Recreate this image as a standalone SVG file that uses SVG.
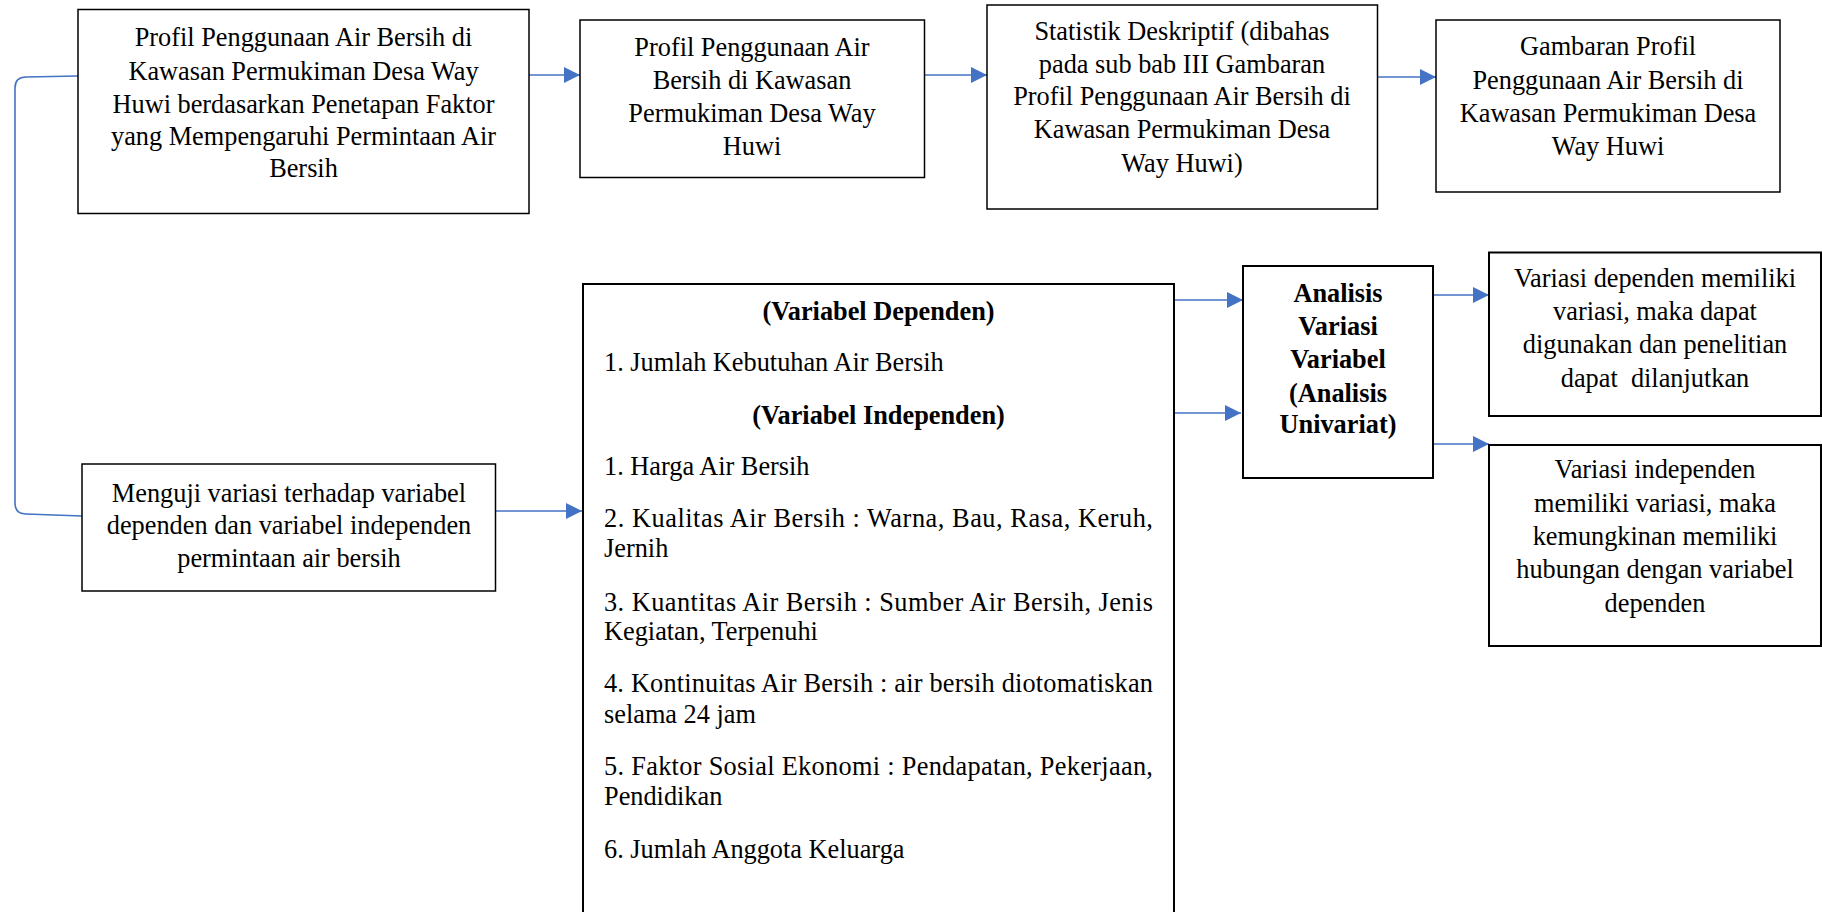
<svg xmlns="http://www.w3.org/2000/svg" width="1822" height="912" viewBox="0 0 1822 912">
<defs>
<style>
.box{fill:#fff;stroke:#000;stroke-width:1.5}
.bx2{fill:#fff;stroke:#000;stroke-width:2}
text{font-family:"Liberation Serif","Times New Roman",serif;font-size:28px;fill:#000}
.c{text-anchor:middle}
.b{font-weight:bold}
.con{fill:none;stroke:#4472C4;stroke-width:1.6}
</style>
<marker id="ah" markerUnits="userSpaceOnUse" markerWidth="16" markerHeight="16" viewBox="0 0 16 16" refX="16" refY="8" orient="auto">
<path d="M0,0 L16,8 L0,16 Z" fill="#4472C4"/>
</marker>
</defs>
<rect width="1822" height="912" fill="#fff"/>
<g id="connectors">
<path class="con" d="M78,76 L26,77 Q15,77 15,88 L15,503 Q15,514 26,514 L82,516"/>
<path class="con" marker-end="url(#ah)" d="M529,75 L580,75"/>
<path class="con" marker-end="url(#ah)" d="M925,75 L987,75"/>
<path class="con" marker-end="url(#ah)" d="M1378,77 L1436,77"/>
<path class="con" marker-end="url(#ah)" d="M496,511 L582,511"/>
<path class="con" marker-end="url(#ah)" d="M1174,300 L1243,300"/>
<path class="con" marker-end="url(#ah)" d="M1174,413 L1241,413"/>
<path class="con" marker-end="url(#ah)" d="M1433,295 L1489,295"/>
<path class="con" marker-end="url(#ah)" d="M1433,444 L1489,444"/>
</g>
<g id="n1">
<rect class="box" x="78" y="9.5" width="451" height="204"/>
<g transform="matrix(0.94,0,0,1,18.21,0)">
<text class="c" x="303.5" y="46.5">Profil Penggunaan Air Bersih di</text>
<text class="c" x="303.5" y="80">Kawasan Permukiman Desa Way</text>
<text class="c" x="303.5" y="112.7">Huwi berdasarkan Penetapan Faktor</text>
<text class="c" x="303.5" y="145">yang Mempengaruhi Permintaan Air</text>
<text class="c" x="303.5" y="177">Bersih</text>
</g>
</g>
<g id="n2">
<rect class="box" x="580" y="20" width="344.5" height="157.5"/>
<g transform="matrix(0.94,0,0,1,45.12,0)">
<text class="c" x="752" y="56">Profil Penggunaan Air</text>
<text class="c" x="752" y="89">Bersih di Kawasan</text>
<text class="c" x="752" y="122">Permukiman Desa Way</text>
<text class="c" x="752" y="155">Huwi</text>
</g>
</g>
<g id="n3">
<rect class="box" x="987" y="5" width="390.5" height="204"/>
<g transform="matrix(0.94,0,0,1,70.92,0)">
<text class="c" x="1182" y="40">Statistik Deskriptif (dibahas</text>
<text class="c" x="1182" y="73.3">pada sub bab III Gambaran</text>
<text class="c" x="1182" y="105.5">Profil Penggunaan Air Bersih di</text>
<text class="c" x="1182" y="138.3">Kawasan Permukiman Desa</text>
<text class="c" x="1182" y="171.7">Way Huwi)</text>
</g>
</g>
<g id="n4">
<rect class="box" x="1436" y="20" width="344" height="172"/>
<g transform="matrix(0.94,0,0,1,96.48,0)">
<text class="c" x="1608" y="55">Gambaran Profil</text>
<text class="c" x="1608" y="89">Penggunaan Air Bersih di</text>
<text class="c" x="1608" y="122">Kawasan Permukiman Desa</text>
<text class="c" x="1608" y="155">Way Huwi</text>
</g>
</g>
<g id="n5">
<rect class="box" x="82" y="464" width="413.5" height="127"/>
<g transform="matrix(0.94,0,0,1,17.34,0)">
<text class="c" x="289" y="501.7">Menguji variasi terhadap variabel</text>
<text class="c" x="289" y="534.3">dependen dan variabel independen</text>
<text class="c" x="289" y="566.7">permintaan air bersih</text>
</g>
</g>
<g id="n6">
<rect class="bx2" x="583" y="284" width="591" height="660"/>
<g transform="matrix(0.94,0,0,1,52.71,0)">
<text class="c b" x="878.5" y="320">(Variabel Dependen)</text>
<text class="c b" x="878.5" y="424">(Variabel Independen)</text>
</g>
<g transform="matrix(0.94,0,0,1,36.24,0)">
<text x="604" y="371.5">1. Jumlah Kebutuhan Air Bersih</text>
<text x="604" y="475">1. Harga Air Bersih</text>
<text x="604" y="527.3" textLength="584" lengthAdjust="spacing">2. Kualitas Air Bersih : Warna, Bau, Rasa, Keruh,</text>
<text x="604" y="556.7">Jernih</text>
<text x="604" y="610.7" textLength="584" lengthAdjust="spacing">3. Kuantitas Air Bersih : Sumber Air Bersih, Jenis</text>
<text x="604" y="640">Kegiatan, Terpenuhi</text>
<text x="604" y="691.7" textLength="584" lengthAdjust="spacing">4. Kontinuitas Air Bersih : air bersih diotomatiskan</text>
<text x="604" y="723.3">selama 24 jam</text>
<text x="604" y="775" textLength="584" lengthAdjust="spacing">5. Faktor Sosial Ekonomi : Pendapatan, Pekerjaan,</text>
<text x="604" y="805">Pendidikan</text>
<text x="604" y="858.3">6. Jumlah Anggota Keluarga</text>
</g>
</g>
<g id="n7">
<rect class="bx2" x="1243" y="266" width="190" height="212"/>
<g transform="matrix(0.94,0,0,1,80.28,0)">
<text class="c b" x="1338" y="301.7">Analisis</text>
<text class="c b" x="1338" y="335">Variasi</text>
<text class="c b" x="1338" y="368.3">Variabel</text>
<text class="c b" x="1338" y="401.7">(Analisis</text>
<text class="c b" x="1338" y="433.3">Univariat)</text>
</g>
</g>
<g id="n8">
<rect class="bx2" x="1489" y="252.5" width="332" height="163.5"/>
<g transform="matrix(0.94,0,0,1,99.3,0)">
<text class="c" x="1655" y="286.7">Variasi dependen memiliki</text>
<text class="c" x="1655" y="320">variasi, maka dapat</text>
<text class="c" x="1655" y="352.7">digunakan dan penelitian</text>
<text class="c" x="1655" y="386.7" xml:space="preserve">dapat  dilanjutkan</text>
</g>
</g>
<g id="n9">
<rect class="bx2" x="1489" y="445" width="332" height="201"/>
<g transform="matrix(0.94,0,0,1,99.3,0)">
<text class="c" x="1655" y="478.3">Variasi independen</text>
<text class="c" x="1655" y="511.7">memiliki variasi, maka</text>
<text class="c" x="1655" y="545">kemungkinan memiliki</text>
<text class="c" x="1655" y="578.3">hubungan dengan variabel</text>
<text class="c" x="1655" y="611.7">dependen</text>
</g>
</g>
</svg>
